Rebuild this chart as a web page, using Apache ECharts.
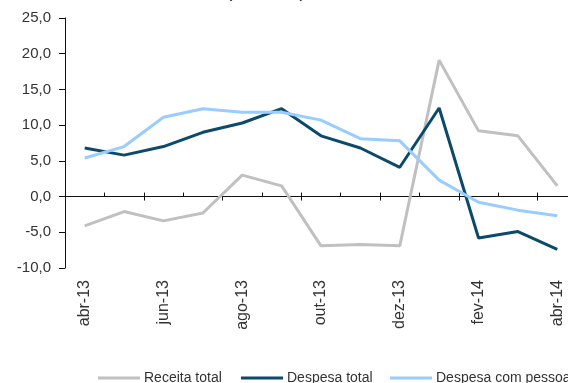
<!DOCTYPE html>
<html>
<head>
<meta charset="utf-8">
<script src="https://cdn.jsdelivr.net/npm/echarts@6/dist/echarts.min.js"></script>
<style>
  html, body { margin: 0; padding: 0; background: #fff; }
  #chart { width: 568px; height: 383px; }
</style>
</head>
<body>
<div id="chart"></div>
<script>
// Monthly categories (abr-13 .. abr-14)
const months = ['abr-13', 'mai-13', 'jun-13', 'jul-13', 'ago-13', 'set-13', 'out-13',
                'nov-13', 'dez-13', 'jan-14', 'fev-14', 'mar-14', 'abr-14'];

// Series values (% change)
const receitaTotal = [-4.1, -2.1, -3.4, -2.3, 3.0, 1.5, -6.9, -6.7, -6.9, 19.1, 9.2, 8.5, 1.5];
const despesaTotal = [6.8, 5.8, 7.0, 9.0, 10.3, 12.3, 8.5, 6.8, 4.1, 12.4, -5.8, -4.9, -7.4];
const despesaPessoal = [5.4, 7.0, 11.1, 12.3, 11.8, 11.8, 10.7, 8.1, 7.8, 2.3, -0.8, -1.9, -2.7];

// Value axis range
const yMin = -10, yMax = 25, yStep = 5;

const seriesNames = ['Receita total', 'Despesa total', 'Despesa com pessoal'];
const seriesColors = ['#c0c0c0', '#0c4a6a', '#99ccff'];
const seriesData = [receitaTotal, despesaTotal, despesaPessoal];

// Horizontal start of each legend entry
const legendLefts = [93, 236, 385];

const chart = echarts.init(document.getElementById('chart'), null, { renderer: 'canvas' });

const font = 'Liberation Sans, Arial, sans-serif';

chart.setOption({
  animation: false,
  backgroundColor: '#fff',
  title: {
    text: '(% a.a., real)',
    left: 223,
    top: -17,
    textStyle: { fontFamily: font, fontSize: 13, fontWeight: 'bold', color: '#333' }
  },
  grid: { left: 65, top: 18, width: 512, height: 250, containLabel: false, outerBoundsMode: 'none' },
  legend: seriesNames.map((name, i) => ({
    left: legendLefts[i],
    top: 366,
    icon: 'rect',
    itemWidth: 42,
    itemHeight: 3,
    textStyle: { color: '#333', fontFamily: font, fontSize: 14, padding: [0, 0, 0, -1] },
    data: [name]
  })),
  xAxis: [
    {
      type: 'category',
      data: months,
      boundaryGap: true,
      position: 'bottom',
      axisLine: { show: true, onZero: true, onZeroAxisIndex: 0, lineStyle: { color: '#111', width: 1 } },
      axisTick: { show: true, inside: false, length: 4, interval: 1, lineStyle: { color: '#111' } },
      axisLabel: { interval: 1, rotate: 90, margin: 12, hideOverlap: false, color: '#333', fontFamily: font, fontSize: 16 },
      splitLine: { show: false }
    },
    {
      type: 'category',
      data: months,
      boundaryGap: true,
      position: 'top',
      axisLine: { show: false, onZero: true, onZeroAxisIndex: 1 },
      axisTick: { show: true, inside: false, length: 4, interval: 0, lineStyle: { color: '#111' } },
      axisLabel: { show: false },
      splitLine: { show: false }
    }
  ],
  yAxis: [
    {
      type: 'value',
      min: yMin,
      max: yMax,
      interval: yStep,
      axisLine: { show: true, lineStyle: { color: '#111', width: 1 } },
      axisTick: { show: true, inside: false, length: 6, lineStyle: { color: '#111' } },
      axisLabel: {
        margin: 14,
        color: '#333',
        fontFamily: font,
        fontSize: 15,
        formatter: v => v.toFixed(1).replace('.', ',')
      },
      splitLine: { show: false }
    },
    {
      type: 'value',
      min: yMin,
      max: yMax,
      interval: yStep,
      show: false,
      axisLine: { show: false },
      axisTick: { show: false },
      axisLabel: { show: false },
      splitLine: { show: false }
    }
  ],
  series: seriesNames.map((name, i) => ({
    name: name,
    type: 'line',
    xAxisIndex: 0,
    yAxisIndex: 0,
    data: seriesData[i],
    symbol: 'none',
    smooth: false,
    color: seriesColors[i],
    lineStyle: { color: seriesColors[i], width: 3 },
    z: i === 0 ? 2 : 3 + i
  }))
});
</script>
</body>
</html>
